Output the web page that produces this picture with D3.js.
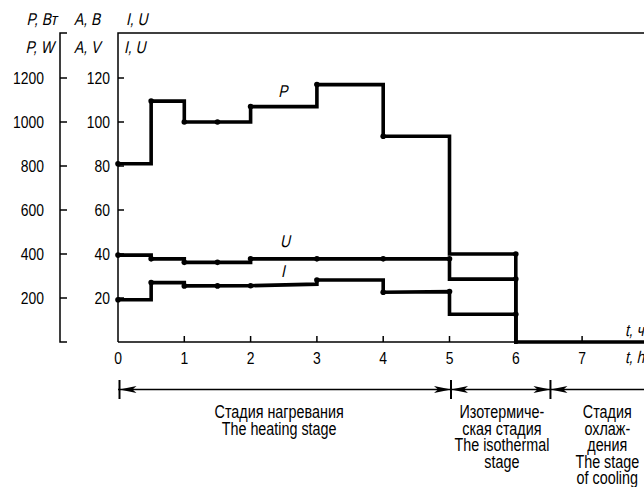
<!DOCTYPE html>
<html>
<head>
<meta charset="utf-8">
<script src="https://cdn.jsdelivr.net/npm/d3@7"></script>
<style>
  html, body { margin: 0; padding: 0; background: #fff; }
  svg { display: block; }
  text { font-family: "Liberation Sans", Arial, sans-serif; font-size: 17px; fill: #000; }
  .cap { font-size: 17.5px; }
</style>
</head>
<body>
<svg id="chart" width="644" height="487"></svg>
<script>
// Time, h
const timeTicks = [0, 1, 2, 3, 4, 5, 6, 7];
// Left scales
const powerTicks = [200, 400, 600, 800, 1000, 1200];   // P, W
const ampVoltTicks = [20, 40, 60, 80, 100, 120];       // A, V

// Power P, W: vertices of the step line [t, value]
const pLine = [[0, 810], [0.5, 810], [0.5, 1095], [1, 1095], [1, 1000], [2, 1000], [2, 1070],
  [3, 1070], [3, 1170], [4, 1170], [4, 935], [5, 935], [5, 400], [6, 400], [6, 0], [8, 0]];
const pDots = [[0, 810], [0.5, 1095], [1, 1000], [1.5, 1000], [2, 1070], [3, 1170], [4, 935], [6, 400]];

// Voltage U, V
const uLine = [[0, 39.5], [0.5, 39.5], [0.5, 37.8], [1, 37.8], [1, 36.2], [2, 36.2], [2, 37.8],
  [5, 37.8], [5, 28.6], [6, 28.6], [6, 0]];
const uDots = [[0, 39.5], [0.5, 37.8], [1, 36.2], [1.5, 36.2], [2, 37.8], [3, 37.8], [4, 37.8], [5, 37.8], [6, 28.6]];

// Current I, A
const iLine = [[0, 19.2], [0.5, 19.2], [0.5, 27], [1, 27], [1, 25.5], [2, 25.6], [3, 26.3],
  [3, 28.2], [4, 28.2], [4, 22.6], [5, 22.9], [5, 12.6], [6, 12.6], [6, 0]];
const iDots = [[0, 19.2], [0.5, 27], [1, 25.5], [1.5, 25.5], [2, 25.6], [3, 28.2], [4, 22.6], [5, 22.9], [6, 12.6]];

// Process stages: boundaries in hours and captions
const stageBounds = [0, 5, 6.5];
const stageCaptions = [
  ["Стадия нагревания", "The heating stage"],
  ["Изотермиче-", "ская стадия", "The isothermal", "stage"],
  ["Стадия", "охлаж-", "дения", "The stage", "of cooling"]
];
const stageCenters = [2.43, 5.79, 7.38];

const svg = d3.select("#chart");

const x = d3.scaleLinear().domain([0, 8]).range([118, 118 + 8 * 66.3]);
const yAV = d3.scaleLinear().domain([0, 120]).range([342, 78]);
const yP = d3.scaleLinear().domain([0, 1200]).range([342, 78]);

const topY = 33;
const axisColor = "#000";
const narrow = 0.82;   // horizontal squeeze for the condensed lettering

// Draws one condensed text label anchored at (px, py); slanted labels use an oblique skew
function label(g, px, py, str, anchor, slanted, dy, cls) {
  const skew = slanted ? " skewX(-12)" : "";
  return g.append("text")
    .attr("class", cls || null)
    .attr("transform", `translate(${px},${py})${skew} scale(${narrow},1)`)
    .attr("dy", dy || null)
    .attr("text-anchor", anchor || "start")
    .text(str);
}

// Frame: inner axis and top border
svg.append("path")
  .attr("d", `M${x(0)},${yAV(0)}V${topY}H644`)
  .attr("fill", "none").attr("stroke", axisColor).attr("stroke-width", 1.5);

// Outer power axis with end hooks
const pAxisX = 60;
svg.append("path")
  .attr("d", `M${pAxisX + 7},${topY}H${pAxisX}V${yP(0)}H${pAxisX + 7}`)
  .attr("fill", "none").attr("stroke", axisColor).attr("stroke-width", 1.5);

// Power ticks and labels
const pg = svg.append("g");
pg.selectAll("line").data(powerTicks).join("line")
  .attr("x1", pAxisX).attr("x2", pAxisX + 7)
  .attr("y1", d => yP(d)).attr("y2", d => yP(d))
  .attr("stroke", axisColor).attr("stroke-width", 1.5);
powerTicks.forEach(d => label(pg, 44, yP(d), d, "end", false, "0.36em"));

// A, V ticks and labels
const ag = svg.append("g");
ag.selectAll("line").data(ampVoltTicks).join("line")
  .attr("x1", x(0)).attr("x2", x(0) + 6)
  .attr("y1", d => yAV(d)).attr("y2", d => yAV(d))
  .attr("stroke", axisColor).attr("stroke-width", 1.5);
ampVoltTicks.forEach(d => label(ag, 110, yAV(d), d, "end", false, "0.36em"));

// Time axis
svg.append("line")
  .attr("x1", x(0)).attr("x2", 644).attr("y1", yAV(0)).attr("y2", yAV(0))
  .attr("stroke", axisColor).attr("stroke-width", 1.5);
const tg = svg.append("g");
tg.selectAll("line").data(timeTicks.filter(d => d > 0)).join("line")
  .attr("x1", d => x(d)).attr("x2", d => x(d))
  .attr("y1", yAV(0)).attr("y2", yAV(0) - 6)
  .attr("stroke", axisColor).attr("stroke-width", 1.5);
timeTicks.forEach(d => label(tg, x(d), 364, d, "middle", false));

// Axis titles
const titles = [
  [57, 25, "P, Вт", "end"], [74, 25, "A, В", "start"], [126, 25, "I, U", "start"],
  [54, 53, "P, W", "end"], [74, 53, "A, V", "start"], [124, 53, "I, U", "start"],
  [625, 336, "t, ч", "start"], [625, 363, "t, h", "start"]
];
const titleG = svg.append("g");
titles.forEach(d => label(titleG, d[0], d[1], d[2], d[3], true));

// Series lines and measurement dots
const series = [
  { line: pLine, dots: pDots, y: yP },
  { line: uLine, dots: uDots, y: yAV },
  { line: iLine, dots: iDots, y: yAV }
];
series.forEach(s => {
  const gen = d3.line().x(d => x(d[0])).y(d => s.y(d[1]));
  svg.append("path").datum(s.line)
    .attr("d", gen)
    .attr("fill", "none").attr("stroke", "#000")
    .attr("stroke-width", 3.6).attr("stroke-linejoin", "miter").attr("stroke-linecap", "square");
  svg.append("g").selectAll("circle").data(s.dots).join("circle")
    .attr("cx", d => x(d[0])).attr("cy", d => s.y(d[1])).attr("r", 2.8)
    .attr("fill", "#000");
});

// Series names
const names = [[283, 97, "P"], [285, 247, "U"], [283, 277, "I"]];
const nameG = svg.append("g");
names.forEach(d => label(nameG, d[0], d[1], d[2], "middle", true));

// Stage arrows
const arrowY = 389.5;
const sg = svg.append("g");
sg.append("line")
  .attr("x1", x(stageBounds[0])).attr("x2", 644)
  .attr("y1", arrowY).attr("y2", arrowY)
  .attr("stroke", "#000").attr("stroke-width", 1.5);
sg.selectAll("line.bar").data(stageBounds).join("line")
  .attr("class", "bar")
  .attr("x1", d => x(d) + 1.5).attr("x2", d => x(d) + 1.5)
  .attr("y1", 380).attr("y2", 399)
  .attr("stroke", "#000").attr("stroke-width", 2);

function arrowHead(tipX, dir) {
  const len = 17, hw = 3.4;
  return `M${tipX},${arrowY}L${tipX + dir * len},${arrowY - hw}L${tipX + dir * (len - 4)},${arrowY}L${tipX + dir * len},${arrowY + hw}Z`;
}
const heads = [];
stageBounds.forEach((b, i) => {
  const bx = x(b) + 1.5;
  heads.push(arrowHead(bx, 1));
  if (i > 0) heads.push(arrowHead(bx, -1));
});
sg.selectAll("path").data(heads).join("path")
  .attr("d", d => d).attr("fill", "#000");

// Stage captions
stageCaptions.forEach((lines, i) => {
  lines.forEach((ln, j) => label(sg, x(stageCenters[i]), 418 + j * 16.5, ln, "middle", false, null, "cap"));
});
</script>
</body>
</html>
